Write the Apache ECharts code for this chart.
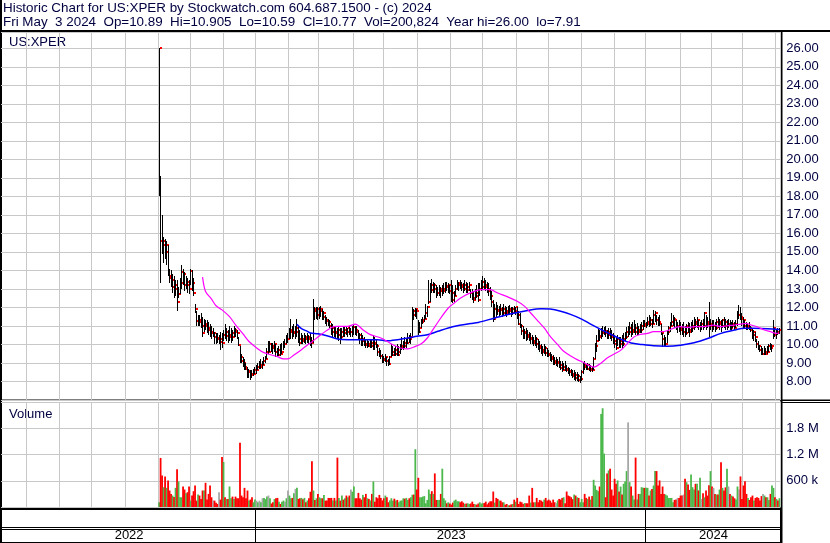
<!DOCTYPE html>
<html>
<head>
<meta charset="utf-8">
<script src="https://cdn.jsdelivr.net/npm/echarts@6/dist/echarts.min.js"></script>
<style>
  html, body { margin: 0; padding: 0; background: #fff; }
  #chart { width: 830px; height: 543px; }
</style>
</head>
<body>
<div id="chart"></div>
<script>
// one slot per weekday, the chart covers two years
const axisStart = '2022-05-09'
const axisEnd = '2024-05-03'
const dataStart = '2022-10-03'

const highs = [
  26, 19.1, 17.0, 15.8, 15.7, 15.6, 15.4, 14.1, 14.0, 13.8,
  13.7, 13.5, 13.5, 13.1, 13.6, 14.3, 14.1, 13.9, 13.7, 13.6,
  13.5, 14.1, 14.0, 13.6, 12.2, 11.8, 11.6, 11.6, 11.7, 11.5,
  11.4, 11.3, 11.3, 11.2, 11.1, 11.0, 10.9, 10.7, 10.6, 10.6,
  10.5, 10.7, 10.6, 10.8, 11.1, 10.9, 10.8, 11.0, 10.9, 10.8,
  11.0, 10.9, 10.8, 10.4, 9.9, 9.5, 9.3, 9.2, 9.0, 8.8,
  8.7, 8.6, 8.6, 8.7, 8.8, 8.9, 9.0, 9.1, 9.2, 9.1,
  9.3, 9.4, 9.8, 10.2, 10.2, 10.1, 10.1, 10.2, 10.0, 9.8,
  9.9, 10.0, 10.1, 10.2, 10.3, 10.5, 10.6, 10.9, 11.4, 11.0,
  11.1, 11.0, 11.4, 11.0, 10.8, 10.6, 10.5, 10.6, 10.5, 10.6,
  10.5, 10.6, 10.4, 12.45, 12.05, 12.0, 12.0, 12.0, 12.1, 11.9,
  11.8, 11.6, 11.5, 11.4, 11.3, 11.15, 11.1, 11.0, 11.0, 10.9,
  11.0, 10.9, 10.9, 11.0, 11.0, 11.0, 10.9, 11.0, 10.9, 11.0,
  11.05, 11.0, 11.0, 10.8, 10.6, 10.6, 10.5, 10.4, 10.3, 10.25,
  10.2, 10.3, 10.3, 10.5, 10.4, 10.3, 10.0, 9.8, 9.7, 9.5,
  9.4, 9.5, 9.3, 9.2, 9.4, 10.0, 9.9, 9.8, 9.9, 10.0,
  9.9, 10.0, 10.4, 10.2, 10.4, 10.3, 10.6, 10.5, 10.6, 12.05,
  11.9, 11.95, 11.9, 11.3, 11.2, 11.4, 11.5, 11.6, 12.2, 12.1,
  13.5, 13.3, 13.53, 13.4, 13.3, 13.2, 13.1, 13.2, 13.1, 13.2,
  13.3, 13.4, 13.4, 13.3, 13.2, 13.5, 13.2, 12.9, 13.2, 13.5,
  13.4, 13.5, 13.4, 13.3, 13.5, 13.4, 13.3, 13.4, 13.0, 13.0,
  12.9, 13.0, 13.2, 13.3, 13.3, 13.5, 13.7, 13.6, 13.5, 13.4,
  13.3, 13.1, 12.9, 12.4, 12.2, 12.3, 12.15, 12.1, 12.2, 12.0,
  12.2, 12.1, 12.0, 12.1, 12.15, 12.0, 12.0, 12.1, 12.05, 12.0,
  11.8, 11.7, 11.1, 11.0, 10.85, 10.9, 10.8, 10.7, 10.6, 10.5,
  10.4, 10.5, 10.4, 10.3, 10.2, 10.0, 9.9, 10.0, 9.9, 9.8,
  9.7, 9.6, 9.5, 9.45, 9.3, 9.3, 9.2, 9.3, 9.1, 9.1,
  9.0, 9.1, 8.9, 8.8, 8.75, 8.7, 8.6, 8.6, 8.5, 8.5,
  8.4, 8.3, 8.6, 9.0, 9.1, 8.95, 9.0, 8.95, 8.9, 8.8,
  9.3, 10.1, 10.5, 10.85, 10.8, 10.9, 11.0, 10.95, 11.0, 10.8,
  10.9, 10.9, 10.8, 10.6, 10.5, 10.4, 10.5, 10.4, 10.4, 10.5,
  10.6, 10.7, 10.95, 11.0, 11.2, 11.1, 11.2, 11.3, 11.1, 11.15,
  11.0, 11.1, 11.2, 11.3, 11.3, 11.2, 11.5, 11.6, 11.5, 11.4,
  11.86, 11.8, 11.6, 11.5, 11.6, 11.1, 10.6, 10.5, 10.4, 10.8,
  11.0, 11.2, 11.68, 11.6, 11.5, 11.3, 11.2, 11.3, 11.2, 11.1,
  11.2, 11.0, 11.1, 11.2, 11.15, 11.2, 11.3, 11.5, 11.4, 11.5,
  11.3, 11.2, 11.3, 11.4, 11.77, 11.6, 11.5, 12.3, 11.4, 11.3,
  11.3, 11.2, 11.4, 11.5, 11.4, 11.3, 11.4, 11.5, 11.4, 11.3,
  11.4, 11.3, 11.2, 11.3, 11.2, 11.3, 11.8, 12.13, 12.0, 11.7,
  11.5, 11.3, 11.2, 11.1, 11.2, 11.0, 10.9, 10.8, 10.7, 10.3,
  10.2, 9.96, 9.9, 9.8, 9.9, 9.8, 9.9, 10.0, 10.1, 10.0,
  11.3, 10.9, 10.8, 10.9, 10.905
]

const lows = [
  18.0, 13.3, 14.9, 14.4, 14.6, 14.3, 13.7, 13.3, 13.1, 12.8,
  12.5, 12.6, 11.8, 12.5, 12.7, 13.0, 13.2, 12.9, 13.0, 12.8,
  12.7, 13.2, 12.9, 12.6, 11.7, 11.0, 11.0, 11.0, 10.9, 10.4,
  10.7, 10.8, 10.6, 10.5, 10.4, 10.3, 10.4, 10.0, 10.0, 10.1,
  10.0, 9.7, 9.8, 10.2, 10.3, 10.2, 10.1, 10.2, 10.1, 10.2,
  10.4, 10.4, 10.3, 9.9, 9.0, 9.0, 8.8, 8.6, 8.6, 8.2,
  8.2, 8.1, 8.2, 8.3, 8.4, 8.4, 8.6, 8.7, 8.7, 8.7,
  8.9, 9.0, 9.2, 9.5, 9.6, 9.6, 9.5, 9.6, 9.3, 9.4,
  9.4, 9.4, 9.5, 9.7, 9.8, 10.0, 10.1, 10.3, 10.3, 10.3,
  10.4, 10.3, 10.4, 10.1, 9.9, 10.0, 10.0, 10.1, 10.0, 10.1,
  10.0, 9.9, 9.8, 10.1, 11.3, 11.4, 11.3, 11.4, 11.5, 11.3,
  11.3, 11.1, 11.0, 11.0, 10.9, 10.5, 10.4, 10.4, 10.35, 10.3,
  10.2, 10.0, 10.3, 10.4, 10.4, 10.5, 10.4, 10.5, 10.4, 10.4,
  10.5, 10.5, 10.45, 10.3, 10.0, 9.9, 9.9, 9.9, 9.8, 9.8,
  9.85, 9.8, 9.8, 9.7, 9.7, 9.8, 9.4, 9.3, 9.2, 9.0,
  9.0, 9.05, 8.85, 8.82, 8.9, 9.3, 9.35, 9.4, 9.36, 9.4,
  9.4, 9.5, 9.7, 9.7, 9.8, 9.8, 10.0, 10.1, 10.0, 10.45,
  11.3, 11.5, 11.4, 10.5, 10.6, 10.9, 11.1, 11.2, 11.4, 11.5,
  12.2, 12.3, 12.8, 12.8, 12.8, 12.5, 12.6, 12.6, 12.5, 12.6,
  12.7, 12.8, 12.9, 12.8, 12.7, 12.3, 12.24, 12.3, 12.6, 12.96,
  12.9, 13.0, 12.9, 12.8, 12.9, 12.8, 12.8, 12.9, 12.5, 12.4,
  12.25, 12.4, 12.5, 12.3, 12.6, 12.9, 12.96, 13.0, 12.9, 12.8,
  12.6, 12.4, 12.0, 11.2, 11.3, 11.5, 11.6, 11.5, 11.6, 11.5,
  11.6, 11.6, 11.5, 11.6, 11.6, 11.5, 11.6, 11.7, 11.6, 11.4,
  11.05, 10.9, 10.5, 10.3, 10.3, 10.2, 10.25, 10.2, 10.0, 10.0,
  9.9, 9.9, 9.8, 9.7, 9.6, 9.5, 9.4, 9.5, 9.4, 9.3,
  9.3, 9.1, 9.05, 8.9, 8.9, 8.85, 8.8, 8.75, 8.6, 8.5,
  8.6, 8.55, 8.5, 8.4, 8.3, 8.3, 8.2, 8.1, 8.05, 8.0,
  7.95, 7.91, 8.0, 8.4, 8.6, 8.6, 8.6, 8.55, 8.5, 8.5,
  8.6, 9.2, 9.6, 10.2, 10.2, 10.3, 10.4, 10.5, 10.4, 10.3,
  10.3, 10.3, 10.2, 10.0, 9.8, 9.7, 9.9, 9.8, 9.8, 9.8,
  9.9, 10.2, 10.3, 10.4, 10.5, 10.4, 10.5, 10.6, 10.5, 10.5,
  10.5, 10.6, 10.6, 10.8, 10.96, 10.9, 11.0, 10.96, 11.0, 10.9,
  11.1, 11.2, 11.05, 11.0, 11.0, 10.5, 9.87, 9.9, 9.9, 10.1,
  10.5, 10.7, 11.0, 11.0, 10.9, 10.8, 10.6, 10.7, 10.5, 10.5,
  10.4, 10.4, 10.5, 10.6, 10.4, 10.6, 10.7, 10.8, 10.9, 10.9,
  10.8, 10.7, 10.8, 10.8, 10.9, 10.8, 10.9, 10.4, 10.8, 10.7,
  10.8, 10.7, 10.8, 10.9, 10.8, 10.7, 10.9, 10.9, 10.8, 10.8,
  10.9, 10.8, 10.8, 10.9, 10.8, 10.9, 11.0, 11.4, 11.3, 11.0,
  10.9, 10.9, 10.8, 10.8, 10.8, 10.7, 10.3, 10.2, 10.14, 9.8,
  9.7, 9.6, 9.45, 9.42, 9.45, 9.45, 9.5, 9.6, 9.7, 9.6,
  10.3, 10.4, 10.3, 10.5, 10.59
]

const closes = [
  26, 15.6, 15.4, 15.6, 15.0, 15.4, 13.7, 13.6, 13.1, 13.5,
  13.0, 13.2, 12.3, 12.7, 13.3, 13.9, 13.8, 13.2, 13.4, 13.2,
  13.0, 13.95, 13.3, 12.8, 11.9, 11.25, 11.3, 11.2, 11.0, 10.6,
  11.1, 11.0, 10.9, 10.8, 10.7, 10.6, 10.6, 10.4, 10.35, 10.3,
  10.3, 10.15, 10.1, 10.5, 10.45, 10.7, 10.4, 10.5, 10.6, 10.4,
  10.8, 10.7, 10.6, 9.95, 9.3, 9.1, 9.0, 8.8, 8.7, 8.5,
  8.55, 8.4, 8.35, 8.4, 8.6, 8.6, 8.8, 8.8, 8.9, 8.9,
  9.1, 9.2, 9.6, 9.6, 10.0, 9.9, 9.8, 10.0, 9.6, 9.45,
  9.7, 9.5, 9.6, 10.0, 10.0, 10.3, 10.3, 10.7, 10.8, 10.6,
  10.7, 10.7, 10.9, 10.3, 10.06, 10.3, 10.2, 10.4, 10.3, 10.4,
  10.3, 10.2, 10.1, 11.9, 11.8, 11.9, 11.6, 11.8, 11.9, 11.5,
  11.7, 11.3, 11.25, 11.2, 11.0, 10.7, 10.9, 10.6, 10.7, 10.5,
  10.8, 10.4, 10.7, 10.6, 10.8, 10.7, 10.9, 10.7, 10.7, 10.95,
  10.97, 10.8, 10.7, 10.5, 10.3, 10.2, 10.3, 10.0, 9.95, 10.0,
  9.94, 10.1, 9.9, 10.1, 10.0, 9.9, 9.6, 9.4, 9.36, 9.2,
  9.18, 9.3, 9.1, 8.95, 9.3, 9.45, 9.6, 9.5, 9.7, 9.45,
  9.6, 9.8, 9.9, 10.1, 9.9, 10.1, 10.35, 10.3, 10.4, 11.8,
  11.6, 11.9, 11.8, 10.7, 10.9, 11.2, 11.3, 11.4, 11.7, 12.0,
  12.3, 13.2, 12.96, 13.2, 13.0, 12.78, 12.8, 13.0, 12.87, 12.9,
  13.0, 13.17, 13.1, 13.2, 12.9, 12.8, 12.4, 12.6, 13.0, 13.2,
  13.3, 13.2, 13.1, 13.0, 13.2, 12.96, 13.1, 13.2, 12.8, 12.5,
  12.4, 12.8, 12.6, 12.4, 13.0, 13.1, 13.4, 13.2, 13.1, 13.0,
  12.9, 12.6, 12.3, 11.4, 11.9, 11.85, 11.8, 11.9, 11.85, 11.7,
  11.9, 11.8, 11.7, 11.9, 11.8, 11.7, 11.9, 11.8, 12.0, 11.6,
  11.1, 11.0, 10.75, 10.6, 10.7, 10.5, 10.4, 10.3, 10.35, 10.2,
  10.1, 10.3, 10.0, 9.9, 9.8, 9.7, 9.6, 9.8, 9.55, 9.5,
  9.45, 9.3, 9.2, 9.1, 9.0, 9.0, 9.05, 8.9, 8.75, 8.6,
  8.8, 8.7, 8.6, 8.57, 8.5, 8.4, 8.3, 8.35, 8.2, 8.3,
  8.1, 8.12, 8.5, 8.9, 8.8, 8.7, 8.9, 8.6, 8.65, 8.6,
  9.2, 9.9, 10.2, 10.45, 10.4, 10.6, 10.7, 10.75, 10.6, 10.5,
  10.7, 10.5, 10.4, 10.2, 10.0, 9.8, 10.3, 10.0, 10.2, 10.0,
  10.3, 10.4, 10.7, 10.7, 10.9, 10.7, 10.8, 10.9, 10.7, 10.8,
  10.7, 10.8, 11.0, 11.1, 11.0, 11.1, 11.2, 11.1, 11.3, 11.1,
  11.6, 11.7, 11.3, 11.2, 11.1, 10.6, 10.3, 10.0, 10.05, 10.7,
  10.9, 11.0, 11.2, 11.4, 11.3, 11.0, 11.0, 10.9, 10.8, 10.7,
  10.7, 10.6, 11.0, 10.8, 10.7, 10.9, 11.0, 11.2, 11.1, 11.3,
  11.0, 11.1, 11.1, 11.0, 11.7, 11.2, 11.1, 11.0, 11.1, 11.0,
  11.0, 10.9, 11.2, 11.1, 11.2, 11.0, 11.3, 11.2, 11.0, 11.1,
  11.1, 10.9, 11.1, 11.0, 10.9, 11.1, 11.6, 11.6, 11.5, 11.4,
  11.3, 11.0, 10.9, 11.0, 10.9, 10.8, 10.5, 10.7, 10.4, 10.0,
  9.9, 9.7, 9.5, 9.5, 9.6, 9.5, 9.6, 9.9, 9.8, 9.9,
  10.9, 10.5, 10.7, 10.6, 10.77
]

// thousands of shares
const volumes = [
  108, 1123, 723, 454, 700, 438, 608, 377, 300, 262,
  230, 438, 862, 585, 223, 223, 470, 400, 315, 338,
  470, 146, 262, 362, 492, 146, 285, 262, 185, 377,
  377, 554, 169, 300, 492, 223, 150, 146, 100, 70,
  338, 169, 1146, 1030, 223, 185, 185, 470, 200, 238,
  185, 238, 200, 200, 1469, 262, 223, 438, 200, 377,
  150, 170, 223, 108, 169, 146, 108, 146, 108, 200,
  208, 180, 238, 262, 200, 80, 108, 180, 200, 208,
  120, 70, 123, 146, 120, 200, 377, 262, 200, 208,
  315, 415, 438, 185, 200, 208, 180, 208, 108, 150,
  200, 350, 1046, 377, 162, 200, 300, 223, 200, 200,
  277, 146, 146, 208, 208, 208, 146, 208, 150, 1131,
  208, 146, 262, 169, 200, 262, 223, 262, 400, 350,
  470, 200, 200, 323, 200, 169, 277, 223, 300, 200,
  185, 150, 300, 585, 123, 223, 200, 277, 208, 150,
  200, 262, 223, 108, 150, 200, 146, 190, 150, 162,
  108, 146, 150, 200, 190, 208, 162, 200, 223, 280,
  285, 1323, 400, 669, 223, 223, 238, 250, 85, 162,
  400, 300, 362, 300, 769, 162, 162, 162, 300, 877,
  200, 150, 85, 108, 80, 54, 100, 146, 169, 130,
  131, 108, 131, 100, 70, 80, 85, 70, 80, 123,
  70, 60, 54, 80, 108, 80, 85, 90, 123, 60,
  100, 131, 131, 354, 100, 208, 185, 146, 146, 108,
  108, 54, 69, 40, 40, 60, 69, 169, 120, 208,
  69, 123, 108, 69, 90, 85, 85, 262, 100, 438,
  108, 108, 208, 108, 162, 146, 120, 169, 208, 146,
  169, 146, 100, 169, 108, 85, 150, 185, 169, 208,
  223, 85, 354, 262, 246, 223, 180, 285, 262, 223,
  208, 108, 185, 108, 300, 208, 185, 238, 169, 250,
  623, 492, 392, 362, 469, 2131, 2262, 1223, 223, 769,
  838, 877, 400, 262, 646, 531, 608, 354, 469, 285,
  531, 585, 823, 1938, 569, 469, 262, 169, 1131, 169,
  300, 300, 454, 440, 438, 438, 438, 262, 377, 415,
  492, 823, 823, 492, 608, 300, 469, 300, 285, 262,
  208, 208, 208, 108, 162, 169, 208, 208, 262, 262,
  285, 646, 569, 515, 392, 746, 454, 400, 531, 531,
  380, 669, 185, 315, 223, 377, 262, 500, 823, 469,
  438, 300, 285, 285, 400, 1023, 438, 377, 450, 877,
  469, 300, 262, 238, 200, 169, 469, 400, 700, 185,
  492, 590, 300, 208, 162, 223, 262, 146, 208, 223,
  208, 146, 250, 300, 262, 223, 223, 162, 300, 492,
  438, 223, 185, 146, 201
]

// moving averages: [bar number from dataStart, value]
const maShort = [
  [29, 13.64], [31, 12.86], [35, 12.45], [38, 12.09], [42, 11.87], [47, 11.5],
  [51, 11.06], [56, 10.57], [60, 10.16], [66, 9.76], [70, 9.56], [75, 9.43],
  [79, 9.34], [83, 9.22], [86, 9.22], [90, 9.43], [95, 9.72], [99, 9.97],
  [101, 10.08], [108, 10.53], [115, 10.92], [119, 10.98], [126, 10.98], [131, 11.1],
  [136, 10.8], [141, 10.53], [148, 10.35], [152, 10.17], [157, 9.94], [161, 9.81],
  [166, 9.76], [170, 9.86], [175, 10.04], [179, 10.35], [182, 10.71], [188, 11.43],
  [193, 11.97], [197, 12.24], [201, 12.5], [208, 12.8], [215, 12.96], [221, 12.96],
  [226, 12.78], [233, 12.56], [239, 12.33], [244, 12.06], [248, 11.7], [253, 11.25],
  [257, 10.89], [261, 10.44], [266, 9.99], [270, 9.63], [275, 9.36], [279, 9.18],
  [284, 9.0], [287, 8.86], [290, 8.78], [295, 9.0], [299, 9.27], [304, 9.5],
  [308, 9.68], [313, 10.09], [317, 10.41], [321, 10.54], [326, 10.6], [330, 10.69],
  [335, 10.69], [339, 10.74], [344, 10.9], [348, 10.96], [353, 10.92], [357, 10.96],
  [362, 10.96], [366, 10.99], [370, 11.05], [375, 10.96], [379, 11.01], [384, 11.05],
  [388, 11.1], [392, 11.14], [395, 11.05], [399, 10.96], [404, 10.78], [408, 10.69],
  [412, 10.6], [414, 10.62]
]

const maLong = [
  [92, 11.09], [95, 10.85], [99, 10.71], [101, 10.62], [106, 10.58], [112, 10.47],
  [119, 10.3], [126, 10.26], [132, 10.26], [139, 10.26], [146, 10.26], [152, 10.2],
  [159, 10.26], [166, 10.35], [172, 10.44], [179, 10.53], [186, 10.71], [193, 10.89],
  [199, 11.01], [204, 11.08], [208, 11.13], [213, 11.19], [224, 11.43], [235, 11.66],
  [246, 11.84], [255, 11.93], [261, 11.91], [268, 11.79], [275, 11.61], [282, 11.37],
  [288, 11.1], [295, 10.8], [302, 10.53], [308, 10.29], [315, 10.08], [322, 10.0],
  [330, 9.93], [339, 9.91], [348, 9.96], [357, 10.09], [366, 10.32], [375, 10.6],
  [384, 10.78], [391, 10.87], [397, 10.87], [406, 10.85], [414, 10.81]
]

const header1 = 'Historic Chart for US:XPER by Stockwatch.com 604.687.1500 - (c) 2024'
const header2 = 'Fri May  3 2024  Op=10.89  Hi=10.905  Lo=10.59  Cl=10.77  Vol=200,824  Year hi=26.00  lo=7.91'

const FONT = "'Liberation Sans', Arial, sans-serif"
const TEXT = '#000040'
const GRID = '#c8c8c8'

function weekdays(from, to) {
  const out = []
  const d = new Date(from + 'T00:00:00Z')
  const end = new Date(to + 'T00:00:00Z')
  while (d <= end) {
    const wd = d.getUTCDay()
    if (wd !== 0 && wd !== 6) out.push(d.toISOString().slice(0, 10))
    d.setUTCDate(d.getUTCDate() + 1)
  }
  return out
}

const days = weekdays(axisStart, axisEnd)
const offset = days.indexOf(dataStart)
if ([highs, lows, closes, volumes].some(a => a.length !== days.length - offset)) {
  throw new Error('lengths ' + [highs.length, lows.length, closes.length, volumes.length, days.length - offset])
}

const monthStarts = new Set()
const yearStarts = new Set()
const yearMids = new Set()
let yStart = 0
days.forEach((d, i) => {
  if (i === 0) return
  if (d.slice(5, 7) !== days[i - 1].slice(5, 7)) monthStarts.add(i)
  if (d.slice(0, 4) !== days[i - 1].slice(0, 4)) {
    yearStarts.add(i)
    yearMids.add(Math.floor((yStart + i) / 2))
    yStart = i
  }
})
yearMids.add(Math.floor((yStart + days.length) / 2))

const ohlc = closes.map((c, i) => [offset + i, highs[i], lows[i], c])
const volData = volumes.map((v, i) => {
  const prev = i === 0 ? -Infinity : closes[i - 1]
  const color = closes[i] > prev ? '#4cb84c' : closes[i] < prev ? '#ff0000' : '#a8a8a8'
  return { value: [offset + i, v * 1000], itemStyle: { color } }
})

const chart = echarts.init(document.getElementById('chart'))

const catAxis = (gridIndex) => ({
  type: 'category',
  gridIndex,
  data: days,
  boundaryGap: true,
  axisLine: { show: false },
  axisTick: { show: false },
  axisLabel: { show: false },
  splitLine: { show: true, interval: (i) => monthStarts.has(i), lineStyle: { color: GRID, width: 1 } },
})

chart.setOption({
  animation: false,
  backgroundColor: '#fff',
  textStyle: { fontFamily: FONT },
  grid: [
    { left: 1, width: 779.2, top: 32, height: 368 },
    { left: 1, width: 779.2, top: 402.2, height: 104.8 },
    { left: 1, width: 779.2, top: 510, height: 33 },
  ],
  xAxis: [
    catAxis(0),
    catAxis(1),
    {
      type: 'category',
      gridIndex: 2,
      data: days,
      boundaryGap: true,
      axisLine: { show: false },
      axisTick: { show: false },
      axisLabel: {
        show: true,
        inside: true,
        margin: 7.5,
        verticalAlign: 'middle',
        interval: (i) => yearMids.has(i),
        formatter: (v) => v.slice(0, 4),
        color: '#000',
        fontSize: 13,
        fontFamily: FONT,
      },
      splitLine: { show: true, interval: (i) => yearStarts.has(i), lineStyle: { color: '#000', width: 1 } },
    },
  ],
  yAxis: [
    {
      type: 'value',
      gridIndex: 0,
      position: 'right',
      min: 7,
      max: 26.88,
      interval: 1,
      axisLine: { show: false },
      axisTick: { show: false },
      axisLabel: {
        margin: 6,
        align: 'left',
        color: TEXT,
        fontSize: 13,
        fontFamily: FONT,
        showMinLabel: false,
        showMaxLabel: false,
        formatter: (v) => v.toFixed(2),
      },
      splitLine: { lineStyle: { color: GRID, width: 1 } },
    },
    {
      type: 'value',
      gridIndex: 1,
      position: 'right',
      min: 0,
      max: 2400000,
      interval: 600000,
      axisLine: { show: false },
      axisTick: { show: false },
      axisLabel: {
        margin: 6,
        align: 'left',
        color: TEXT,
        fontSize: 13,
        fontFamily: FONT,
        showMinLabel: false,
        showMaxLabel: false,
        formatter: (v) => (v >= 1000000 ? (v / 1000000).toFixed(1) + ' M' : v / 1000 + ' k'),
      },
      splitLine: { lineStyle: { color: GRID, width: 1 } },
    },
    { type: 'value', gridIndex: 2, show: false },
  ],
  series: [
    {
      // 1px high-low bar, 2px close tick on its right; the next bar can hide part of the tick
      type: 'custom',
      xAxisIndex: 0,
      yAxisIndex: 0,
      data: ohlc,
      encode: { x: 0, y: [1, 2, 3] },
      clip: true,
      renderItem: (params, api) => {
        const x = api.value(0)
        const hi = api.coord([x, api.value(1)])
        const lo = api.coord([x, api.value(2)])
        const cl = api.coord([x, api.value(3)])
        const bx = Math.round(hi[0] - 0.5)
        const top = Math.round(hi[1])
        return {
          type: 'group',
          children: [
            {
              type: 'rect',
              shape: { x: bx, y: top, width: 1, height: Math.max(Math.round(lo[1]) - top, 1) },
              style: { fill: '#000' },
            },
            {
              type: 'rect',
              shape: { x: bx + 1, y: Math.round(cl[1]) - 1, width: 2, height: 2 },
              style: { fill: '#ff0000' },
            },
          ],
        }
      },
    },
    {
      type: 'line',
      xAxisIndex: 0,
      yAxisIndex: 0,
      data: maLong.map(([i, v]) => [offset + i, v]),
      showSymbol: false,
      smooth: 0.3,
      lineStyle: { color: '#0000ff', width: 1.5 },
    },
    {
      type: 'line',
      xAxisIndex: 0,
      yAxisIndex: 0,
      data: maShort.map(([i, v]) => [offset + i, v]),
      showSymbol: false,
      smooth: 0.3,
      lineStyle: { color: '#ff00ff', width: 1.2 },
    },
    {
      type: 'bar',
      xAxisIndex: 1,
      yAxisIndex: 1,
      data: volData,
      barWidth: 1.8,
    },
  ],
  graphic: [
    { type: 'text', left: 3, top: 1.5, style: { text: header1, font: '13.4px ' + FONT, fill: TEXT } },
    { type: 'text', left: 3, top: 15.5, style: { text: header2, font: '13.4px ' + FONT, fill: TEXT } },
    { type: 'text', left: 9, top: 36, style: { text: 'US:XPER', font: '13px ' + FONT, fill: TEXT } },
    { type: 'text', left: 9, top: 407.5, style: { text: 'Volume', font: '13px ' + FONT, fill: TEXT } },
    { type: 'rect', shape: { x: 0, y: 30, width: 830, height: 2 }, style: { fill: '#000' } },
    { type: 'rect', shape: { x: 0, y: 0, width: 2, height: 543 }, style: { fill: '#000' } },
    { type: 'rect', shape: { x: 780.5, y: 30, width: 2, height: 513 }, style: { fill: '#000' } },
    { type: 'rect', shape: { x: 0, y: 399.5, width: 830, height: 1.5 }, style: { fill: '#000' } },
    { type: 'rect', shape: { x: 0, y: 402, width: 830, height: 1 }, style: { fill: '#000' } },
    { type: 'rect', shape: { x: 0, y: 507.5, width: 782, height: 2.5 }, style: { fill: '#000' } },
    { type: 'rect', shape: { x: 0, y: 527, width: 782, height: 1 }, style: { fill: '#000' } },
    { type: 'rect', shape: { x: 0, y: 529, width: 782, height: 1 }, style: { fill: '#000' } },
    { type: 'rect', shape: { x: 0, y: 542, width: 782, height: 1 }, style: { fill: '#000' } },
  ],
})
</script>
</body>
</html>
